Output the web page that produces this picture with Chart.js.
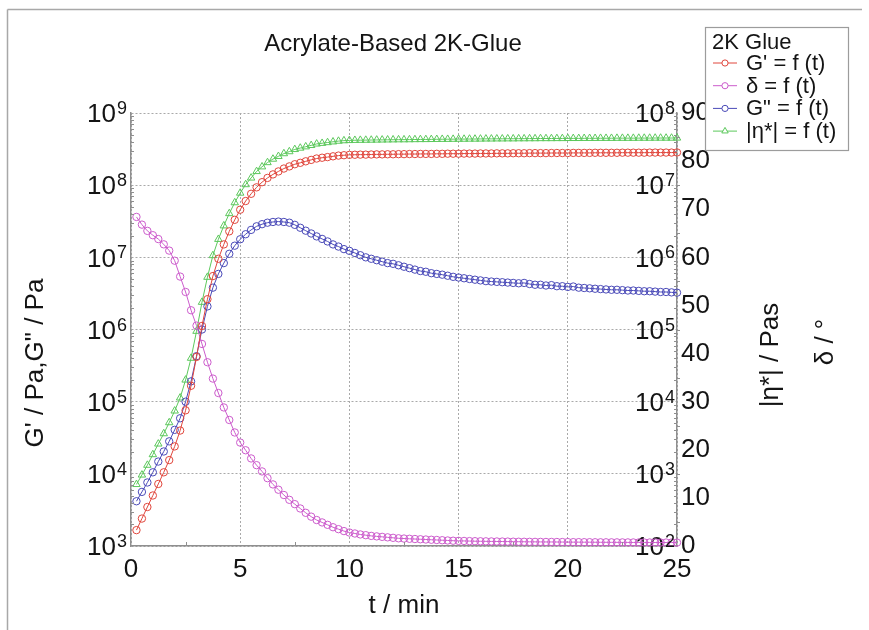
<!DOCTYPE html>
<html>
<head>
<meta charset="utf-8">
<title>Acrylate-Based 2K-Glue</title>
<script src="https://cdn.jsdelivr.net/npm/chart.js@4/dist/chart.umd.min.js"></script>
<style>
  html, body { margin: 0; padding: 0; background: #fff; }
  #wrap { position: relative; width: 869px; height: 630px; }
</style>
</head>
<body>
<div id="wrap"><canvas id="chart-rheo" width="869" height="630"></canvas></div>
<script>
// Oscillation cure test, one point every 15 s
const times = [
  0.25, 0.5, 0.75, 1, 1.25, 1.5, 1.75, 2, 2.25, 2.5,
  2.75, 3, 3.25, 3.5, 3.75, 4, 4.25, 4.5, 4.75, 5,
  5.25, 5.5, 5.75, 6, 6.25, 6.5, 6.75, 7, 7.25, 7.5,
  7.75, 8, 8.25, 8.5, 8.75, 9, 9.25, 9.5, 9.75, 10,
  10.25, 10.5, 10.75, 11, 11.25, 11.5, 11.75, 12, 12.25, 12.5,
  12.75, 13, 13.25, 13.5, 13.75, 14, 14.25, 14.5, 14.75, 15,
  15.25, 15.5, 15.75, 16, 16.25, 16.5, 16.75, 17, 17.25, 17.5,
  17.75, 18, 18.25, 18.5, 18.75, 19, 19.25, 19.5, 19.75, 20,
  20.25, 20.5, 20.75, 21, 21.25, 21.5, 21.75, 22, 22.25, 22.5,
  22.75, 23, 23.25, 23.5, 23.75, 24, 24.25, 24.5, 24.75, 25
];

// G' / Pa
const gPrime = [
  1.66e3, 2.40e3, 3.47e3, 5.01e3, 7.24e3, 1.05e4, 1.55e4, 2.40e4, 3.98e4, 7.59e4,
  1.66e5, 4.17e5, 1.12e6, 2.63e6, 5.50e6, 9.55e6, 1.51e7, 2.29e7, 3.31e7, 4.57e7,
  6.03e7, 7.59e7, 9.33e7, 1.10e8, 1.26e8, 1.41e8, 1.55e8, 1.70e8, 1.82e8, 1.95e8,
  2.04e8, 2.14e8, 2.24e8, 2.34e8, 2.40e8, 2.45e8, 2.51e8, 2.57e8, 2.60e8, 2.63e8,
  2.64e8, 2.65e8, 2.65e8, 2.66e8, 2.67e8, 2.67e8, 2.68e8, 2.68e8, 2.69e8, 2.69e8,
  2.70e8, 2.70e8, 2.71e8, 2.71e8, 2.71e8, 2.72e8, 2.72e8, 2.73e8, 2.73e8, 2.73e8,
  2.74e8, 2.74e8, 2.74e8, 2.75e8, 2.75e8, 2.75e8, 2.76e8, 2.76e8, 2.76e8, 2.77e8,
  2.77e8, 2.77e8, 2.78e8, 2.78e8, 2.78e8, 2.78e8, 2.79e8, 2.79e8, 2.79e8, 2.79e8,
  2.80e8, 2.80e8, 2.80e8, 2.80e8, 2.81e8, 2.81e8, 2.81e8, 2.81e8, 2.81e8, 2.82e8,
  2.82e8, 2.82e8, 2.82e8, 2.82e8, 2.83e8, 2.83e8, 2.83e8, 2.83e8, 2.83e8, 2.84e8
];

// G" / Pa
const gDouble = [
  4.17e3, 5.62e3, 7.59e3, 1.05e4, 1.48e4, 2.04e4, 2.82e4, 4.07e4, 5.89e4, 1.00e5,
  1.91e5, 4.27e5, 1.00e6, 2.09e6, 3.80e6, 5.89e6, 8.32e6, 1.12e7, 1.45e7, 1.78e7,
  2.09e7, 2.40e7, 2.69e7, 2.88e7, 3.02e7, 3.09e7, 3.13e7, 3.09e7, 3.02e7, 2.82e7,
  2.57e7, 2.34e7, 2.14e7, 1.95e7, 1.80e7, 1.66e7, 1.51e7, 1.41e7, 1.30e7, 1.23e7,
  1.15e7, 1.07e7, 1.00e7, 9.55e6, 9.12e6, 8.71e6, 8.32e6, 8.13e6, 7.76e6, 7.41e6,
  7.08e6, 6.76e6, 6.46e6, 6.31e6, 6.03e6, 5.89e6, 5.75e6, 5.56e6, 5.37e6, 5.25e6,
  5.13e6, 5.01e6, 4.90e6, 4.79e6, 4.68e6, 4.62e6, 4.57e6, 4.52e6, 4.47e6, 4.42e6,
  4.37e6, 4.42e6, 4.27e6, 4.17e6, 4.17e6, 4.07e6, 4.12e6, 3.98e6, 3.98e6, 3.89e6,
  3.94e6, 3.80e6, 3.76e6, 3.72e6, 3.67e6, 3.63e6, 3.59e6, 3.55e6, 3.55e6, 3.51e6,
  3.47e6, 3.47e6, 3.43e6, 3.39e6, 3.39e6, 3.35e6, 3.31e6, 3.31e6, 3.27e6, 3.24e6
];

// |eta*| / Pas
const etaStar = [
  7.14e2, 9.66e2, 1.32e3, 1.85e3, 2.60e3, 3.61e3, 5.13e3, 7.45e3, 1.13e4, 2.00e4,
  4.01e4, 9.48e4, 2.39e5, 5.31e5, 1.06e6, 1.78e6, 2.74e6, 4.05e6, 5.73e6, 7.78e6,
  1.02e7, 1.26e7, 1.55e7, 1.80e7, 2.06e7, 2.30e7, 2.51e7, 2.74e7, 2.92e7, 3.13e7,
  3.27e7, 3.41e7, 3.56e7, 3.73e7, 3.81e7, 3.90e7, 3.99e7, 4.08e7, 4.14e7, 4.17e7,
  4.19e7, 4.20e7, 4.21e7, 4.22e7, 4.23e7, 4.24e7, 4.25e7, 4.26e7, 4.27e7, 4.27e7,
  4.28e7, 4.29e7, 4.30e7, 4.30e7, 4.31e7, 4.32e7, 4.33e7, 4.33e7, 4.34e7, 4.35e7,
  4.35e7, 4.36e7, 4.36e7, 4.37e7, 4.38e7, 4.38e7, 4.39e7, 4.39e7, 4.40e7, 4.40e7,
  4.41e7, 4.41e7, 4.42e7, 4.42e7, 4.43e7, 4.43e7, 4.43e7, 4.44e7, 4.44e7, 4.45e7,
  4.45e7, 4.45e7, 4.46e7, 4.46e7, 4.46e7, 4.47e7, 4.47e7, 4.47e7, 4.48e7, 4.48e7,
  4.48e7, 4.48e7, 4.49e7, 4.49e7, 4.49e7, 4.50e7, 4.50e7, 4.50e7, 4.50e7, 4.51e7
];

// delta / degree
const delta = [
  68.4, 66.8, 65.5, 64.6, 63.8, 62.7, 61.4, 59.3, 56.0, 52.8,
  49.0, 45.8, 42.0, 38.2, 34.8, 31.8, 28.8, 26.2, 23.6, 21.5,
  19.9, 18.2, 16.8, 15.5, 14.1, 12.8, 11.7, 10.6, 9.6, 8.7,
  7.8, 6.9, 6.1, 5.4, 4.9, 4.4, 3.9, 3.5, 3.1, 2.8,
  2.6, 2.4, 2.25, 2.1, 2.0, 1.9, 1.8, 1.7, 1.6, 1.55,
  1.5, 1.45, 1.4, 1.35, 1.3, 1.25, 1.2, 1.15, 1.1, 1.07,
  1.05, 1.02, 1.0, 0.98, 0.97, 0.95, 0.94, 0.93, 0.92, 0.9,
  0.89, 0.88, 0.87, 0.86, 0.85, 0.84, 0.84, 0.83, 0.82, 0.81,
  0.8, 0.8, 0.79, 0.79, 0.78, 0.77, 0.77, 0.76, 0.76, 0.75,
  0.75, 0.74, 0.74, 0.73, 0.73, 0.73, 0.72, 0.72, 0.72, 0.71
];

const xTicks = [0, 5, 10, 15, 20, 25];
const modTicks = [1e3, 1e4, 1e5, 1e6, 1e7, 1e8, 1e9];
const etaTicks = [1e2, 1e3, 1e4, 1e5, 1e6, 1e7, 1e8];
const deltaTicks = [0, 10, 20, 30, 40, 50, 60, 70, 80, 90];

const FONT = "'Liberation Sans', Arial, Helvetica, sans-serif";
const TXT = '#141414';
const GRID = '#a9a9a9';
const AXIS = '#8f8f8f';

const series = [
  { label: "G' = f (t)", data: gPrime, axis: 'y', color: '#e0463c', style: 'circle', r: 3.7 },
  { label: 'δ = f (t)', data: delta, axis: 'yDelta', color: '#cc5ccc', style: 'circle', r: 3.7 },
  { label: 'G" = f (t)', data: gDouble, axis: 'y', color: '#4a4ab8', style: 'circle', r: 3.7 },
  { label: '|η*| = f (t)', data: etaStar, axis: 'yEta', color: '#5cc85c', style: 'triangle', r: 4.3 },
];

// exponent of a power-of-ten tick, drawn as a raised small number after "10"
const expOf = v => String(Math.round(Math.log10(v)));

function line(ctx, x1, y1, x2, y2) {
  ctx.beginPath(); ctx.moveTo(x1, y1); ctx.lineTo(x2, y2); ctx.stroke();
}

function upText(ctx, text, x, y) {
  ctx.save(); ctx.translate(x, y); ctx.rotate(-Math.PI / 2); ctx.fillText(text, 0, 0); ctx.restore();
}

// titles, legend, exponents, minor ticks and the frame around the picture
const decor = {
  id: 'decor',
  afterDraw(chart) {
    const ctx = chart.ctx;
    const { left, right, top, bottom } = chart.chartArea;
    const sx = chart.scales.x, sy = chart.scales.y, se = chart.scales.yEta, sd = chart.scales.yDelta;
    ctx.save();

    // frame
    ctx.strokeStyle = '#a8a8a8'; ctx.lineWidth = 1.5;
    line(ctx, 7.5, 9.5, 862, 9.5);
    line(ctx, 7.5, 9.5, 7.5, 630);

    // minor ticks
    ctx.strokeStyle = AXIS; ctx.lineWidth = 1;
    for (let e = 3; e < 9; e++) {
      for (let m = 2; m < 10; m++) {
        const yy = Math.round(sy.getPixelForValue(m * Math.pow(10, e))) + 0.5;
        line(ctx, left, yy, left + 3, yy);
        const ye = Math.round(se.getPixelForValue(m * Math.pow(10, e - 1))) + 0.5;
        line(ctx, right - 3, ye, right, ye);
      }
    }
    for (let d = 5; d < 90; d += 10) {
      const yd = Math.round(sd.getPixelForValue(d)) + 0.5;
      line(ctx, right, yd, right + 3, yd);
    }
    for (let t = 2.5; t < 25; t += 5) {
      const xx = Math.round(sx.getPixelForValue(t)) + 0.5;
      line(ctx, xx, bottom, xx, bottom - 4);
    }

    // exponents of the log tick labels
    ctx.fillStyle = TXT; ctx.textAlign = 'left'; ctx.textBaseline = 'alphabetic';
    ctx.font = `18px ${FONT}`;
    modTicks.forEach(v => ctx.fillText(expOf(v), left - 14, sy.getPixelForValue(v) + 1));
    etaTicks.forEach(v => ctx.fillText(expOf(v), right - 12, se.getPixelForValue(v) + 1));

    // titles
    ctx.textAlign = 'center'; ctx.textBaseline = 'middle';
    ctx.font = `24px ${FONT}`;
    ctx.fillText('Acrylate-Based 2K-Glue', 393, 44);
    ctx.font = `26px ${FONT}`;
    ctx.fillText('t / min', (left + right) / 2, 606);
    upText(ctx, 'G\' / Pa,G" / Pa', 36, 363);
    upText(ctx, '|η*| / Pas', 771, 355);
    upText(ctx, 'δ / °', 826, 342);

    // legend
    const bx = 705.5, by = 27.5, bw = 143, bh = 123;
    ctx.fillStyle = '#fff'; ctx.fillRect(bx, by, bw, bh);
    ctx.strokeStyle = '#9c9c9c'; ctx.lineWidth = 1.2; ctx.strokeRect(bx, by, bw, bh);
    ctx.fillStyle = TXT; ctx.textAlign = 'left';
    ctx.font = `22px ${FONT}`;
    ctx.fillText('2K Glue', 712, 43);
    series.forEach((s, i) => {
      const ry = 63 + i * 22.7;
      ctx.strokeStyle = s.color; ctx.lineWidth = 1;
      line(ctx, 713, ry, 737, ry);
      ctx.fillStyle = '#fff';
      Chart.helpers.drawPoint(ctx, { pointStyle: s.style, radius: s.r - 0.6, borderWidth: 1, rotation: 0 }, 725, ry);
      ctx.fillStyle = TXT;
      ctx.fillText(s.label, 746, ry + 1);
    });
    ctx.restore();
  }
};

const datasets = series.map(s => ({
  label: s.label,
  data: times.map((t, i) => ({ x: t, y: s.data[i] })),
  yAxisID: s.axis,
  borderColor: s.color,
  borderWidth: 1,
  pointStyle: s.style,
  pointRadius: s.r,
  pointBorderWidth: 1,
  pointBorderColor: s.color,
  pointBackgroundColor: 'rgba(255,255,255,0)',
  tension: 0,
  clip: false,
}));

const tickFont = { family: FONT, size: 26 };

new Chart(document.getElementById('chart-rheo'), {
  type: 'line',
  data: { datasets },
  plugins: [decor],
  options: {
    responsive: false,
    animation: false,
    layout: { padding: { top: 113, left: 0, right: 0, bottom: 0 } },
    plugins: { legend: { display: false }, title: { display: false }, tooltip: { enabled: false } },
    scales: {
      x: {
        type: 'linear', min: 0, max: 25,
        afterBuildTicks: s => { s.ticks = xTicks.map(v => ({ value: v })); },
        afterFit: s => { s.height = 84; },
        ticks: { font: tickFont, color: TXT, padding: 8, maxRotation: 0, autoSkip: false },
        grid: { color: GRID, lineWidth: 1, drawTicks: false },
        border: { display: true, color: AXIS, width: 1.5, dash: [2, 2] },
      },
      y: {
        type: 'logarithmic', position: 'left', min: 1e3, max: 1e9,
        afterBuildTicks: s => { s.ticks = modTicks.map(v => ({ value: v })); },
        afterFit: s => { s.width = 131; },
        ticks: { font: tickFont, color: TXT, padding: 15, labelOffset: 2, autoSkip: false, callback: () => '10' },
        grid: { color: GRID, lineWidth: 1, drawTicks: false },
        border: { display: true, color: AXIS, width: 1.5, dash: [2, 2] },
      },
      yEta: {
        type: 'logarithmic', position: 'right', weight: 0, min: 1e2, max: 1e8,
        afterBuildTicks: s => { s.ticks = etaTicks.map(v => ({ value: v })); },
        afterFit: s => { s.width = 0; },
        ticks: { font: tickFont, color: TXT, mirror: true, padding: -13, labelOffset: 2, autoSkip: false, callback: () => '10' },
        grid: { display: false, drawTicks: false },
        border: { display: true, color: AXIS, width: 1.5 },
      },
      yDelta: {
        type: 'linear', position: 'right', weight: 1, min: 0, max: 90,
        afterBuildTicks: s => { s.ticks = deltaTicks.map(v => ({ value: v })); },
        afterFit: s => { s.width = 192; },
        ticks: { font: tickFont, color: TXT, padding: 4, autoSkip: false },
        grid: { display: false, drawTicks: false },
        border: { display: false },
      },
    },
  },
});
</script>
</body>
</html>
